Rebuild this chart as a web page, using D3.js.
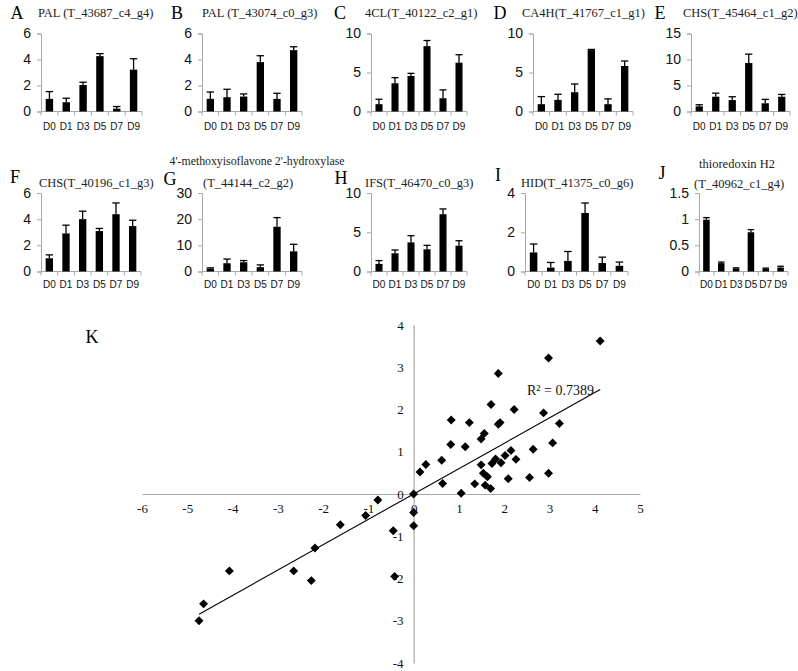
<!DOCTYPE html>
<html><head><meta charset="utf-8">
<script src="https://cdn.jsdelivr.net/npm/d3@7"></script>
<style>body{margin:0;background:#fff}svg{display:block}</style>
</head><body><svg id="c" width="798" height="671"></svg>
<script>
// ---------- DATA ----------
const days = ["D0","D1","D3","D5","D7","D9"];
const panelLetters = ["A","B","C","D","E","F","G","H","I","J"];
const panelTitles = [
  ["PAL (T_43687_c4_g4)"], ["PAL (T_43074_c0_g3)"], ["4CL(T_40122_c2_g1)"],
  ["CA4H(T_41767_c1_g1)"], ["CHS(T_45464_c1_g2)"], ["CHS(T_40196_c1_g3)"],
  ["4'-methoxyisoflavone 2'-hydroxylase","(T_44144_c2_g2)"], ["IFS(T_46470_c0_g3)"],
  ["HID(T_41375_c0_g6)"], ["thioredoxin H2","(T_40962_c1_g4)"]
];
const panelYTicks = [
  [0,2,4,6],[0,2,4,6],[0,5,10],[0,5,10],[0,5,10,15],
  [0,2,4,6],[0,10,20,30],[0,5,10],[0,2,4],[0,0.5,1,1.5]
];
const valuesA = [0.97,0.71,2.04,4.26,0.22,3.22];
const errorsA = [0.56,0.31,0.21,0.19,0.16,0.84];
const valuesB = [0.97,1.10,1.15,3.80,0.97,4.72];
const errorsB = [0.53,0.61,0.20,0.49,0.43,0.26];
const valuesC = [0.94,3.62,4.55,8.38,1.70,6.26];
const errorsC = [0.63,0.72,0.34,0.72,1.07,1.02];
const valuesD = [0.94,1.49,2.47,7.87,0.94,5.83];
const errorsD = [0.97,0.72,1.06,0.09,0.68,0.64];
const valuesE = [1.00,2.84,2.20,9.33,1.58,2.84];
const errorsE = [0.30,0.69,0.64,1.70,0.75,0.44];
const valuesF = [1.01,2.91,4.00,3.09,4.38,3.47];
const errorsF = [0.26,0.63,0.61,0.20,0.86,0.45];
const valuesG = [1.10,3.16,3.54,1.65,17.10,7.72];
const errorsG = [0.30,1.60,0.64,0.88,3.50,2.68];
const valuesH = [0.97,2.32,3.71,2.83,7.30,3.29];
const errorsH = [0.42,0.42,0.85,0.50,0.67,0.63];
const valuesI = [0.97,0.20,0.54,2.98,0.43,0.29];
const errorsI = [0.43,0.26,0.48,0.51,0.30,0.19];
const valuesJ = [0.99,0.16,0.06,0.75,0.055,0.075];
const errorsJ = [0.04,0.02,0.01,0.05,0.01,0.025];
const panelValues = [valuesA,valuesB,valuesC,valuesD,valuesE,valuesF,valuesG,valuesH,valuesI,valuesJ];
const panelErrors = [errorsA,errorsB,errorsC,errorsD,errorsE,errorsF,errorsG,errorsH,errorsI,errorsJ];

// Scatter K
const scatterX = [4.12,2.98,1.87,1.71,2.22,2.87,0.83,1.23,1.91,1.87,3.22,1.56,1.49,0.82,1.14,3.07,2.64,2.15,2.02,1.81,2.26,0.62,1.93,1.73,1.49,0.27,0.14,1.54,2.98,1.63,2.09,2.56,0.64,1.35,1.58,1.70,1.05,0,0,0,
  -0.79,-1.06,-0.45,-1.62,-2.18,-4.07,-2.65,-2.26,-0.42,-4.64,-4.74];
const scatterY = [3.62,3.22,2.85,2.12,2.00,1.92,1.75,1.69,1.69,1.65,1.67,1.43,1.30,1.17,1.12,1.21,1.06,1.03,0.91,0.83,0.82,0.80,0.74,0.72,0.69,0.70,0.52,0.49,0.49,0.41,0.36,0.39,0.25,0.24,0.21,0.13,0.02,0,-0.44,-0.75,
  -0.14,-0.51,-0.87,-0.73,-1.28,-1.82,-1.82,-2.05,-1.95,-2.60,-3.00];
const scatterXTicks = [-6,-5,-4,-3,-2,-1,0,1,2,3,4,5];
const scatterYTicks = [-4,-3,-2,-1,0,1,2,3,4];
const trendSlope = 0.60;
const trendIntercept = 0.0;
const trendRange = [-4.74, 4.12];
const r2Label = "R² = 0.7389";

// ---------- LAYOUT ----------
const panelLayout = [
  {ax:41,  w:101, y0:111.5, yT:33.5, row:0},
  {ax:202, w:100, y0:111.5, yT:33.5, row:0},
  {ax:371, w:96,  y0:111.5, yT:33.5, row:0},
  {ax:533, w:100, y0:111.5, yT:33.5, row:0},
  {ax:691, w:99,  y0:111.5, yT:33.5, row:0},
  {ax:41,  w:100, y0:271.5, yT:193, row:1},
  {ax:202, w:100, y0:271.5, yT:193, row:1},
  {ax:371, w:96,  y0:271.5, yT:193, row:1},
  {ax:525, w:103, y0:271.5, yT:193, row:1},
  {ax:699, w:89,  y0:271.5, yT:193, row:1}
];
const letterPos = [[17,13],[177,13],[340,13],[500,13],[660,13],[15,177],[170,179],[341,178],[498,175],[662,173]];
const titlePos = [
  [[38,13]],[[202,13]],[[365,13]],[[522,13]],[[683,13]],[[39,183]],
  [[257,161,"middle"],[203,183]],[[365,183]],[[521,183]],[[737,164,"middle"],[694,184]]
];

const svg = d3.select("#c");
const serif = "'Liberation Serif','Times New Roman',serif";
const sans = "'Liberation Sans',Arial,sans-serif";
const axisGray = "#a8a8a8";
const fmt = d => String(d);

panelLayout.forEach((L, i) => {
  const g = svg.append("g");
  const vals = panelValues[i], errs = panelErrors[i], ticks = panelYTicks[i];
  const x = d3.scaleBand().domain(days).range([L.ax, L.ax + L.w]).padding(0);
  const y = d3.scaleLinear().domain([0, d3.max(ticks)]).range([L.y0, L.yT]);

  // y axis
  const ya = g.append("g").attr("transform", `translate(${L.ax},0)`)
    .call(d3.axisLeft(y).tickValues(ticks).tickSize(4).tickPadding(6).tickFormat(fmt));
  ya.select(".domain").attr("stroke", axisGray);
  ya.selectAll(".tick line").attr("stroke", axisGray);
  ya.selectAll("text").attr("font-family", sans).attr("font-size", 14).attr("fill", "#111");

  // x axis
  const xa = g.append("g").attr("transform", `translate(0,${L.y0})`)
    .call(d3.axisBottom(x).tickSize(0).tickPadding(L.row === 0 ? 11 : 9.5));
  xa.select(".domain").attr("stroke", axisGray).attr("d", `M${L.ax},0H${L.ax + L.w}`);
  xa.selectAll("text").attr("font-family", sans).attr("font-size", 10).attr("fill", "#111");
  // boundary ticks
  const bounds = d3.range(days.length + 1).map(k => L.ax + k * x.step());
  g.selectAll(".bt").data(bounds).join("line")
    .attr("x1", d => d).attr("x2", d => d).attr("y1", L.y0).attr("y2", L.y0 + 4)
    .attr("stroke", axisGray);

  const bw = x.bandwidth() * 0.44;
  // bars
  g.selectAll(".bar").data(vals).join("rect")
    .attr("x", (d, k) => x(days[k]) + (x.bandwidth() - bw) / 2)
    .attr("y", d => y(d)).attr("width", bw).attr("height", d => L.y0 - y(d))
    .attr("fill", "#000");
  // error bars
  vals.forEach((v, k) => {
    const cx = x(days[k]) + x.bandwidth() / 2;
    const top = y(v + errs[k]);
    g.append("line").attr("x1", cx).attr("x2", cx).attr("y1", y(v)).attr("y2", top)
      .attr("stroke", "#000").attr("stroke-width", 1.3);
    g.append("line").attr("x1", cx - bw / 2).attr("x2", cx + bw / 2).attr("y1", top).attr("y2", top)
      .attr("stroke", "#000").attr("stroke-width", 1.3);
  });

  // letter
  g.append("text").attr("x", letterPos[i][0]).attr("y", letterPos[i][1]).attr("dy", "0.35em")
    .attr("text-anchor", "middle").attr("font-family", serif).attr("font-size", 18).text(panelLetters[i]);
  // titles
  panelTitles[i].forEach((t, j) => {
    const p = titlePos[i][j];
    g.append("text").attr("x", p[0]).attr("y", p[1]).attr("dy", "0.35em")
      .attr("text-anchor", p[2] || "start").attr("font-family", serif)
      .attr("font-size", (i === 6 && j === 0) ? 11.8 : 12.5)
      .attr("fill", "#222").text(t);
  });
});

// ---------- SCATTER K ----------
const sx = d3.scaleLinear().domain([-6, 5]).range([142, 640]);
const sy = d3.scaleLinear().domain([-4, 4]).range([663, 325]);
const ks = svg.append("g");

const xAx = ks.append("g").attr("transform", `translate(0,${sy(0)})`)
  .call(d3.axisBottom(sx).tickValues(scatterXTicks).tickSize(0).tickPadding(10).tickFormat(fmt));
xAx.select(".domain").attr("stroke", axisGray).attr("stroke-width", 1.2);
xAx.selectAll("text").attr("font-family", serif).attr("font-size", 13).attr("fill", "#111");

const yAx = ks.append("g").attr("transform", `translate(${sx(0)},0)`)
  .call(d3.axisLeft(sy).tickValues(scatterYTicks).tickSize(0).tickPadding(10).tickFormat(fmt));
yAx.select(".domain").attr("stroke", axisGray).attr("stroke-width", 1.2);
yAx.selectAll("text").attr("font-family", serif).attr("font-size", 13).attr("fill", "#111");

// trendline
ks.append("line")
  .attr("x1", sx(trendRange[0])).attr("y1", sy(trendSlope * trendRange[0] + trendIntercept))
  .attr("x2", sx(trendRange[1])).attr("y2", sy(trendSlope * trendRange[1] + trendIntercept))
  .attr("stroke", "#000").attr("stroke-width", 1.1);

// points
const diamond = d3.symbol(d3.symbolSquare, 40);
ks.selectAll(".pt").data(scatterX).join("path")
  .attr("d", diamond)
  .attr("transform", (d, k) => `translate(${sx(d)},${sy(scatterY[k])}) rotate(45)`)
  .attr("fill", "#000");

ks.append("text").attr("x", 527).attr("y", 390).attr("dy", "0.35em")
  .attr("font-family", serif).attr("font-size", 14).attr("fill", "#111").text(r2Label);
ks.append("text").attr("x", 92).attr("y", 337).attr("dy", "0.35em").attr("text-anchor", "middle")
  .attr("font-family", serif).attr("font-size", 18).text("K");
</script></body></html>
